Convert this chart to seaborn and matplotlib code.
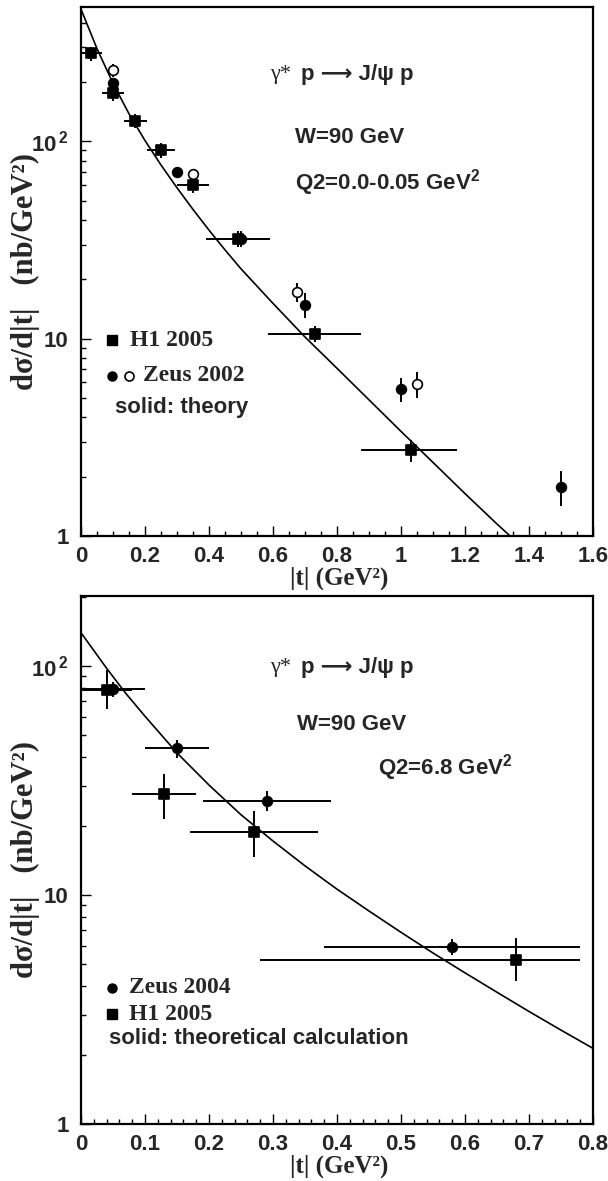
import numpy as np
import pandas as pd
import matplotlib
matplotlib.use("Agg")
import matplotlib.pyplot as plt
import seaborn as sns
from matplotlib.ticker import FixedLocator, FixedFormatter, MultipleLocator, LogLocator, NullFormatter

# ---------------- data: top panel (Q2 = 0.0-0.05 GeV^2) ----------------
h1_top_t = [0.03, 0.10, 0.17, 0.25, 0.35, 0.49, 0.73, 1.03]
h1_top_y = [279, 176, 127, 90, 60, 32.2, 10.6, 2.73]
h1_top_yerr = [22, 15, 10, 8, 5, 3, 1.0, 0.35]
h1_top_xlo = [0.0, 0.065, 0.135, 0.205, 0.30, 0.39, 0.585, 0.875]
h1_top_xhi = [0.065, 0.135, 0.205, 0.295, 0.40, 0.59, 0.875, 1.175]

zeus_f_top_t = [0.10, 0.30, 0.50, 0.70, 1.00, 1.50]
zeus_f_top_y = [198, 69.6, 32.0, 14.9, 5.55, 1.78]
zeus_f_top_yerr = [10, 4, 3, 2.2, 0.8, 0.36]

zeus_o_top_t = [0.10, 0.35, 0.675, 1.05]
zeus_o_top_y = [229, 68, 17.2, 5.9]
zeus_o_top_yerr = [18, 3, 1.9, 0.9]

theory_top_t = [0.0, 0.05, 0.10, 0.15, 0.20, 0.25, 0.30, 0.35, 0.40, 0.45, 0.50,
                0.60, 0.70, 0.80, 0.90, 1.00, 1.10, 1.20, 1.30, 1.35]
theory_top_y = [468, 295, 197, 138, 101, 75.9, 58.2, 45.2, 35.5, 28.2, 22.6,
                15.1, 10.2, 7.08, 4.90, 3.39, 2.36, 1.64, 1.15, 0.97]

# ---------------- data: bottom panel (Q2 = 6.8 GeV^2) ----------------
zeus_bot_t = [0.05, 0.15, 0.29, 0.58]
zeus_bot_y = [79, 43.7, 25.8, 5.95]
zeus_bot_yerr = [6, 4, 2.5, 0.5]
zeus_bot_xlo = [0.0, 0.10, 0.19, 0.38]
zeus_bot_xhi = [0.10, 0.20, 0.39, 0.78]

h1_bot_t = [0.04, 0.13, 0.27, 0.68]
h1_bot_y = [78.6, 27.6, 18.9, 5.2]
h1_bot_yerr_lo = [14, 6.1, 4.2, 1.0]
h1_bot_yerr_hi = [17, 6.1, 4.3, 1.3]
h1_bot_xlo = [0.0, 0.08, 0.17, 0.28]
h1_bot_xhi = [0.08, 0.18, 0.37, 0.78]

theory_bot_t = [0.0, 0.04, 0.07, 0.10, 0.15, 0.20, 0.25, 0.30, 0.35, 0.40, 0.45,
                0.50, 0.55, 0.60, 0.65, 0.70, 0.75, 0.80]
theory_bot_y = [139.6, 97.7, 75.9, 60.3, 41.7, 30.2, 22.4, 17.2, 13.4, 10.6, 8.51,
                6.87, 5.58, 4.57, 3.76, 3.10, 2.57, 2.14]

# tick labels
ytick_vals = [1, 10, 100]
ytick_labels = ["1", "10", r"$10^{\,2}$"]
xticks_top = [0, 0.2, 0.4, 0.6, 0.8, 1, 1.2, 1.4, 1.6]
xticks_top_labels = ["0", "0.2", "0.4", "0.6", "0.8", "1", "1.2", "1.4", "1.6"]
xticks_bot = [0, 0.1, 0.2, 0.3, 0.4, 0.5, 0.6, 0.7, 0.8]
xticks_bot_labels = ["0", "0.1", "0.2", "0.3", "0.4", "0.5", "0.6", "0.7", "0.8"]

# ---------------- style ----------------
sns.set_style("white")
plt.rcParams["font.family"] = ["Liberation Sans", "DejaVu Sans"]
plt.rcParams["mathtext.fontset"] = "custom"
plt.rcParams["mathtext.rm"] = "Liberation Sans:bold"
plt.rcParams["mathtext.it"] = "Liberation Sans:bold"
plt.rcParams["mathtext.bf"] = "Liberation Sans:bold"

SERIF = ["Liberation Serif", "DejaVu Serif"]
SANS = ["Liberation Sans", "DejaVu Sans"]
FS = 16

fig = plt.figure(figsize=(6.08, 11.81), dpi=100)
W, H = 608.0, 1181.0
ax1 = fig.add_axes([81 / W, 1 - 536 / H, 512 / W, 529 / H])
ax2 = fig.add_axes([81 / W, 1 - 1124 / H, 512 / W, 528 / H])


def style_axes(ax, xmax, ymax, xt, xtl, xminor):
    ax.set_yscale("log")
    ax.set_xlim(0, xmax)
    ax.set_ylim(1, ymax)
    ax.set_facecolor("white")
    for s in ax.spines.values():
        s.set_visible(True)
        s.set_linewidth(1.6)
        s.set_color("black")
    ax.xaxis.set_major_locator(FixedLocator(xt))
    ax.xaxis.set_major_formatter(FixedFormatter(xtl))
    ax.xaxis.set_minor_locator(MultipleLocator(xminor))
    ax.yaxis.set_major_locator(FixedLocator(ytick_vals))
    ax.yaxis.set_major_formatter(FixedFormatter(ytick_labels))
    ax.yaxis.set_minor_locator(LogLocator(base=10, subs=np.arange(2, 10)))
    ax.yaxis.set_minor_formatter(NullFormatter())
    ax.tick_params(which="both", direction="in", top=False, right=False,
                   bottom=True, left=True, color="black", width=1.0)
    ax.tick_params(which="major", length=7.5)
    ax.tick_params(which="minor", length=3.8)
    ax.tick_params(axis="x", which="major", pad=7, labelsize=FS)
    ax.tick_params(axis="y", which="major", pad=9, labelsize=FS)
    for lab in ax.get_xticklabels() + ax.get_yticklabels():
        lab.set_fontweight("bold")
        lab.set_family(SANS)
    ax.set_xlabel("|t| (GeV²)", family=SERIF, fontweight="bold", fontsize=18)
    ax.xaxis.set_label_coords(0.505, -0.08)
    ax.xaxis.label.set_va("center")
    ax.set_ylabel("dσ/d|t|   (nb/GeV²)", family=SERIF, fontweight="bold", fontsize=22)
    ax.yaxis.set_label_coords(-0.108, 0.5)
    ax.yaxis.label.set_va("center")


def draw_points(ax, t, y, yerr, xlo=None, xhi=None, marker="o", open_=False, size=6.5):
    t = np.asarray(t, float)
    y = np.asarray(y, float)
    xerr = None
    if xlo is not None:
        xerr = [t - np.asarray(xlo), np.asarray(xhi) - t]
    ax.errorbar(t, y, yerr=yerr, xerr=xerr, fmt="none", ecolor="black",
                elinewidth=1.4, capsize=0, zorder=2)
    df = pd.DataFrame({"t": t, "y": y})
    sns.scatterplot(data=df, x="t", y="y", ax=ax, marker=marker, s=size ** 2,
                    color="white" if open_ else "black", edgecolor="black",
                    linewidth=1.2, zorder=4, legend=False)


# ---------------- top panel ----------------
sns.lineplot(x=theory_top_t, y=theory_top_y, ax=ax1, color="black", lw=1.2,
             sort=False, estimator=None, zorder=3)
draw_points(ax1, h1_top_t, h1_top_y, h1_top_yerr, h1_top_xlo, h1_top_xhi, marker="s", size=7.5)
draw_points(ax1, zeus_f_top_t, zeus_f_top_y, zeus_f_top_yerr, marker="o", size=7)
draw_points(ax1, zeus_o_top_t, zeus_o_top_y, zeus_o_top_yerr, marker="o", open_=True, size=7)
style_axes(ax1, 1.6, 480, xticks_top, xticks_top_labels, 0.05)

ax1.text(0.369, 0.872, "γ*", transform=ax1.transAxes, family=SERIF, fontsize=FS,
         ha="left", va="center")
ax1.text(0.43, 0.872, "p ⟶ J/ψ p", transform=ax1.transAxes, family=SANS,
         fontweight="bold", fontsize=FS, ha="left", va="center")
ax1.text(0.418, 0.754, "W=90 GeV", transform=ax1.transAxes, family=SANS,
         fontweight="bold", fontsize=FS, ha="left", va="center")
ax1.text(0.418, 0.669, r"Q2=0.0-0.05 GeV$^{2}$", transform=ax1.transAxes, family=SANS,
         fontweight="bold", fontsize=FS, ha="left", va="center")

ax1.plot([0.0605], [0.37], marker="s", ms=7, color="black", transform=ax1.transAxes, clip_on=False)
ax1.text(0.0957, 0.37, "H1 2005", transform=ax1.transAxes, family=SERIF,
         fontweight="bold", fontsize=17, ha="left", va="center")
ax1.plot([0.0605], [0.3025], marker="o", ms=6.5, color="black", transform=ax1.transAxes, clip_on=False)
ax1.plot([0.094], [0.3025], marker="o", ms=6.5, mfc="white", mec="black", mew=1.2,
         color="black", transform=ax1.transAxes, clip_on=False)
ax1.text(0.121, 0.3025, "Zeus 2002", transform=ax1.transAxes, family=SERIF,
         fontweight="bold", fontsize=17, ha="left", va="center")
ax1.text(0.0664, 0.242, "solid: theory", transform=ax1.transAxes, family=SANS,
         fontweight="bold", fontsize=FS, ha="left", va="center")

# ---------------- bottom panel ----------------
sns.lineplot(x=theory_bot_t, y=theory_bot_y, ax=ax2, color="black", lw=1.2,
             sort=False, estimator=None, zorder=3)
draw_points(ax2, zeus_bot_t, zeus_bot_y, zeus_bot_yerr, zeus_bot_xlo, zeus_bot_xhi, marker="o", size=7)
draw_points(ax2, h1_bot_t, h1_bot_y, [h1_bot_yerr_lo, h1_bot_yerr_hi], h1_bot_xlo, h1_bot_xhi,
            marker="s", size=7.5)
style_axes(ax2, 0.8, 202, xticks_bot, xticks_bot_labels, 0.02)

ax2.text(0.369, 0.865, "γ*", transform=ax2.transAxes, family=SERIF, fontsize=FS,
         ha="left", va="center")
ax2.text(0.43, 0.865, "p ⟶ J/ψ p", transform=ax2.transAxes, family=SANS,
         fontweight="bold", fontsize=FS, ha="left", va="center")
ax2.text(0.422, 0.756, "W=90 GeV", transform=ax2.transAxes, family=SANS,
         fontweight="bold", fontsize=FS, ha="left", va="center")
ax2.text(0.58, 0.676, r"Q2=6.8 GeV$^{2}$", transform=ax2.transAxes, family=SANS,
         fontweight="bold", fontsize=FS, ha="left", va="center")

ax2.plot([0.0605], [0.2576], marker="o", ms=6.5, color="black", transform=ax2.transAxes, clip_on=False)
ax2.text(0.094, 0.2576, "Zeus 2004", transform=ax2.transAxes, family=SERIF,
         fontweight="bold", fontsize=17, ha="left", va="center")
ax2.plot([0.0605], [0.208], marker="s", ms=7, color="black", transform=ax2.transAxes, clip_on=False)
ax2.text(0.094, 0.208, "H1 2005", transform=ax2.transAxes, family=SERIF,
         fontweight="bold", fontsize=17, ha="left", va="center")
ax2.text(0.0547, 0.161, "solid: theoretical calculation", transform=ax2.transAxes, family=SANS,
         fontweight="bold", fontsize=FS, ha="left", va="center")

fig.savefig("out.png", dpi=100, facecolor="white")
